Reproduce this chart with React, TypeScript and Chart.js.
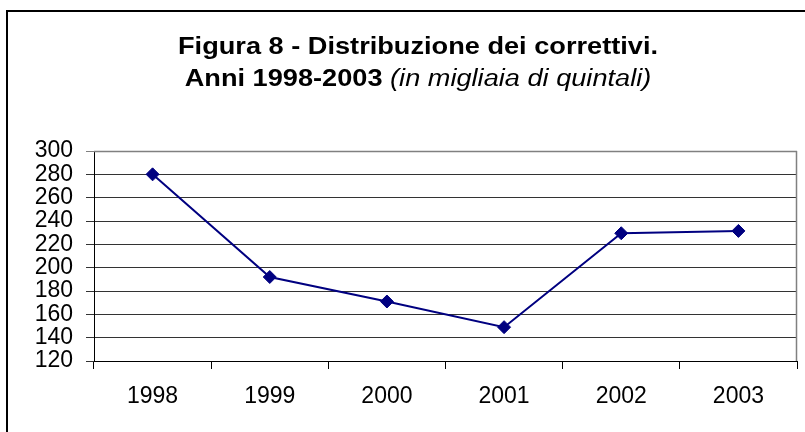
import React, { useEffect, useRef } from "react";
import { Chart, registerables } from "chart.js";

Chart.register(...registerables);

const years: string[] = ["1998", "1999", "2000", "2001", "2002", "2003"];
const values: number[] = [280, 192, 171, 149, 229.5, 231.5];
const yMin = 120;
const yMax = 300;
const yStep = 20;
const titleLine1 = "Figura 8 - Distribuzione dei correttivi.";
const titleLine2Bold = "Anni 1998-2003 ";
const titleLine2Italic = "(in migliaia di quintali)";

const W = 805;
const H = 432;

const titlePlugin = {
  id: "customTitle",
  afterDraw(chart: any) {
    const ctx = chart.ctx as CanvasRenderingContext2D;
    ctx.save();
    ctx.fillStyle = "#000";
    ctx.textBaseline = "alphabetic";
    ctx.textAlign = "left";
    const cx = 418;
    const bold = 'bold 23px "Liberation Sans", Arial, sans-serif';
    const ital = 'italic 23px "Liberation Sans", Arial, sans-serif';
    ctx.font = bold;
    const w1 = ctx.measureText(titleLine1).width;
    const sx = 480 / w1;
    ctx.save();
    ctx.translate(cx, 54);
    ctx.scale(sx, 1);
    ctx.fillText(titleLine1, -w1 / 2, 0);
    ctx.restore();
    ctx.font = bold;
    const wb = ctx.measureText(titleLine2Bold).width;
    ctx.font = ital;
    const wi = ctx.measureText(titleLine2Italic).width;
    const tot = wb + wi;
    ctx.save();
    ctx.translate(cx, 86);
    ctx.scale(sx, 1);
    ctx.font = bold;
    ctx.fillText(titleLine2Bold, -tot / 2, 0);
    ctx.font = ital;
    ctx.fillText(titleLine2Italic, -tot / 2 + wb, 0);
    ctx.restore();
    ctx.restore();
  },
};

const framePlugin = {
  id: "plotFrame",
  beforeDatasetsDraw(chart: any) {
    const { ctx, chartArea } = chart;
    ctx.save();
    ctx.strokeStyle = "#808080";
    ctx.lineWidth = 1.5;
    ctx.beginPath();
    ctx.moveTo(chartArea.left, chartArea.top + 0.5);
    ctx.lineTo(chartArea.right, chartArea.top + 0.5);
    ctx.moveTo(chartArea.right - 0.5, chartArea.top);
    ctx.lineTo(chartArea.right - 0.5, chartArea.bottom);
    ctx.stroke();
    ctx.restore();
  },
};

export default function App() {
  const ref = useRef<HTMLCanvasElement | null>(null);

  useEffect(() => {
    if (!ref.current) return;
    const chart = new Chart(ref.current, {
      type: "line",
      data: {
        labels: years,
        datasets: [
          {
            data: values,
            borderColor: "#000080",
            backgroundColor: "#000080",
            borderWidth: 2,
            pointStyle: "rectRot",
            pointRadius: 6.5,
            pointBorderWidth: 1,
            pointBorderColor: "#000080",
            pointBackgroundColor: "#000080",
            tension: 0,
            fill: false,
          },
        ],
      },
      options: {
        responsive: false,
        animation: false,
        devicePixelRatio: 1,
        layout: { padding: { top: 151, right: 8, bottom: 21, left: 0 } },
        plugins: {
          legend: { display: false },
          title: { display: false },
          tooltip: { enabled: false },
        },
        scales: {
          x: {
            offset: true,
            afterFit: (s: any) => {
              s.height = 50;
            },
            grid: {
              display: true,
              offset: true,
              drawOnChartArea: false,
              drawTicks: true,
              tickLength: 8,
              color: "#000",
            },
            border: { display: true, color: "#000", width: 1 },
            ticks: {
              color: "#000",
              padding: 14,
              font: { family: '"Liberation Sans", Arial, sans-serif', size: 23 },
              maxRotation: 0,
              autoSkip: false,
            },
          },
          y: {
            min: yMin,
            max: yMax,
            afterFit: (s: any) => {
              s.width = 94;
            },
            grid: {
              color: (c: any) => (c.tick && c.tick.value === yMax ? "#808080" : "#333"),
              tickLength: 8,
              drawTicks: true,
            },
            border: { display: true, color: "#000", width: 1 },
            ticks: {
              stepSize: yStep,
              autoSkip: false,
              color: "#000",
              padding: 13,
              font: { family: '"Liberation Sans", Arial, sans-serif', size: 23 },
            },
          },
        },
      },
      plugins: [framePlugin, titlePlugin],
    });
    return () => chart.destroy();
  }, []);

  return (
    <div
      style={{
        position: "fixed",
        left: 0,
        top: 0,
        width: W,
        height: H,
        overflow: "hidden",
        background: "#fff",
      }}
    >
      <div
        style={{
          position: "absolute",
          left: 6,
          top: 10,
          width: 900,
          height: 600,
          border: "2px solid #000",
          boxSizing: "border-box",
        }}
      />
      <canvas
        ref={ref}
        width={W}
        height={H}
        style={{ position: "absolute", left: 0, top: 0, width: W, height: H }}
      />
    </div>
  );
}
